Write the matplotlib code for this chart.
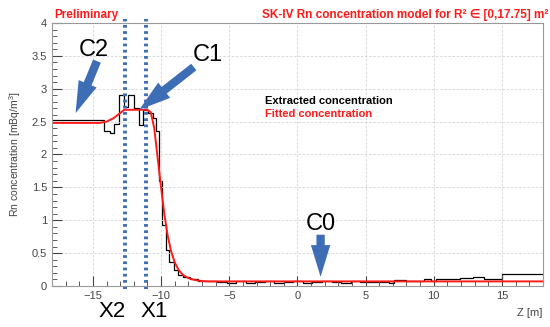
import numpy as np
import matplotlib.pyplot as plt
from matplotlib.ticker import MultipleLocator

plt.rcParams["font.family"] = ["Liberation Sans", "DejaVu Sans"]
plt.rcParams["mathtext.fontset"] = "custom"
plt.rcParams["mathtext.rm"] = "Liberation Sans"

# extracted concentration histogram (bin edges in m, values in mBq/m^3)
hist_edges = [-18, -14.2, -13.75, -13.45, -13.1, -12.7, -12.4, -12.0, -11.65, -11.3,
              -10.95, -10.6, -10.35, -10.15, -9.95, -9.65, -9.4, -9.05, -8.75, -8.4,
              -7.9, -7.3, -6.6, -5.9, -5.2, -4.5, -3.8, -3.1, -2.4, -1.7, -1.0, -0.3,
              0.4, 1.1, 1.8, 2.5, 3.2, 3.9, 4.6, 5.3, 6.0, 6.75, 7.1, 7.95, 8.6, 9.3,
              9.8, 10.2, 10.9, 11.9, 12.9, 13.7, 14.5, 15.0, 18]
hist_vals = [2.52, 2.35, 2.33, 2.46, 2.90, 2.72, 2.90, 2.70, 2.45, 2.68,
             2.63, 2.55, 2.35, 1.59, 0.93, 0.55, 0.37, 0.24, 0.17, 0.13,
             0.10, 0.08, 0.07, 0.06, 0.05, 0.07, 0.05, 0.06, 0.07, 0.05, 0.06, 0.07,
             0.05, 0.06, 0.07, 0.06, 0.05, 0.07, 0.06, 0.065, 0.065, 0.05, 0.09, 0.07, 0.07, 0.10,
             0.08, 0.10, 0.11, 0.12, 0.13, 0.11, 0.11, 0.18]

# fitted model curve
fit_z = [-18, -14.5, -14.0, -13.5, -13.0, -12.7, -11.0, -10.75, -10.5, -10.25, -10.0,
         -9.75, -9.5, -9.25, -9.0, -8.7, -8.4, -8.0, -7.5, -7.0, -6.5, 18]
fit_c = [2.48, 2.48, 2.50, 2.55, 2.63, 2.68, 2.68, 2.64, 2.40, 1.95, 1.50,
         1.08, 0.75, 0.52, 0.36, 0.24, 0.17, 0.12, 0.09, 0.075, 0.07, 0.07]

x_lines = [-12.65, -11.1]
x_line_labels = ["X2", "X1"]
x_label_pos = [-13.6, -10.5]

blue = "#3d6db5"
grey = "#444444"

fig = plt.figure(figsize=(5.5, 3.27), dpi=100)
ax = fig.add_axes([0.0945, 0.1254, 0.8925, 0.8043])

ax.stairs(hist_vals, hist_edges, color="black", lw=0.9, baseline=None)
ax.plot(fit_z, fit_c, color="#ff1a1a", lw=1.4)

ax.set_xlim(-18, 18)
ax.set_ylim(0, 4)
ax.xaxis.set_major_locator(MultipleLocator(5))
ax.xaxis.set_minor_locator(MultipleLocator(1))
ax.yaxis.set_major_locator(MultipleLocator(0.5))
ax.yaxis.set_minor_locator(MultipleLocator(0.1))
ax.tick_params(which="both", direction="in", colors=grey, labelsize=8,
               top=False, right=False)
ax.tick_params(which="major", length=7)
ax.tick_params(which="minor", length=3.5)
ax.set_yticks([0, 0.5, 1, 1.5, 2, 2.5, 3, 3.5, 4])
ax.set_yticklabels(["0", "0.5", "1", "1.5", "2", "2.5", "3", "3.5", "4"])
ax.set_xticks([-15, -10, -5, 0, 5, 10, 15])
ax.set_xticklabels(["\u221215", "\u221210", "\u22125", "0", "5", "10", "15"])
ax.grid(True, which="major", color="#d4d4d4", lw=0.6, ls=(0, (3, 2)))
for s in ax.spines.values():
    s.set_color("#999999")

ax.set_ylabel("Rn concentration [mBq/m$^3$]", fontsize=7.5, color=grey, labelpad=6)
ax.text(1.0, -0.085, "Z [m]", transform=ax.transAxes, ha="right", va="top",
        fontsize=8, color=grey)

fig.text(0.098, 0.955, "Preliminary", color="#ff1a1a", fontsize=8.5,
         fontweight="bold", va="center")
fig.text(0.997, 0.955, "SK-IV Rn concentration model for R\u00b2 \u2208 [0,17.75] m\u00b2",
         color="#ff1a1a", fontsize=8.5, fontweight="bold", va="center", ha="right")

ax.text(-2.4, 2.81, "Extracted concentration", fontsize=8, fontweight="bold",
        color="black", va="center")
ax.text(-2.4, 2.62, "Fitted concentration", fontsize=8, fontweight="bold",
        color="#ff1a1a", va="center")

for xv, lab, lx in zip(x_lines, x_line_labels, x_label_pos):
    ax.plot([xv, xv], [-0.05, 4.06], color=blue, lw=2.8, ls=(0, (0.7, 0.9)),
            clip_on=False)
    ax.text(lx, -0.39, lab, fontsize=16, ha="center", va="center", color="black")

arrow = dict(arrowstyle="simple,head_length=0.95,head_width=0.58,tail_width=0.25",
             color=blue, lw=0, mutation_scale=24, shrinkA=0, shrinkB=0)
ax.annotate("", xy=(-16.27, 2.63), xytext=(-14.7, 3.42), arrowprops=arrow)
ax.text(-14.9, 3.59, "C2", fontsize=17, ha="center", va="center")
ax.annotate("", xy=(-11.6, 2.68), xytext=(-7.6, 3.33), arrowprops=arrow)
ax.text(-6.6, 3.51, "C1", fontsize=17, ha="center", va="center")
ax.annotate("", xy=(1.7, 0.14), xytext=(1.7, 0.78), arrowprops=arrow)
ax.text(1.74, 0.94, "C0", fontsize=17, ha="center", va="center")

fig.savefig("out.png", dpi=100)
